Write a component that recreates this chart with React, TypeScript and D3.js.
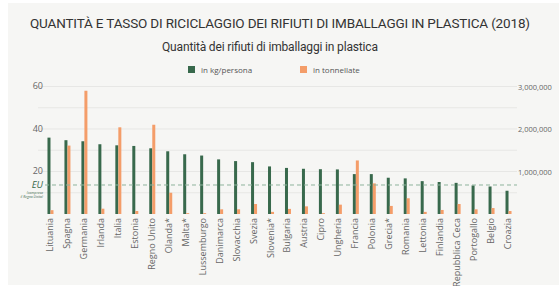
import * as React from 'react';
import {useEffect, useRef} from 'react';
import * as d3 from 'd3';

const countries = [
  'Lituania', 'Spagna', 'Germania', 'Irlanda', 'Italia', 'Estonia', 'Regno Unito',
  'Olanda*', 'Malta*', 'Lussemburgo', 'Danimarca', 'Slovacchia', 'Svezia', 'Slovenia*',
  'Bulgaria', 'Austria', 'Cipro', 'Ungheria', 'Francia', 'Polonia', 'Grecia*',
  'Romania', 'Lettonia', 'Finlandia', 'Repubblica Ceca', 'Portogallo', 'Belgio', 'Croazia',
];

// kg per person
const kgPerPerson = [
  35.8, 34.6, 34.1, 32.7, 32.2, 31.9, 30.8,
  29.4, 28.0, 27.4, 25.6, 24.8, 24.3, 22.3,
  21.6, 21.2, 21.0, 20.9, 18.7, 18.7, 17.0,
  16.7, 15.4, 15.0, 14.6, 13.4, 12.9, 10.9,
];

// tonnes
const tonnes = [
  90000, 1610000, 2900000, 125000, 2040000, 70000, 2100000,
  500000, 20000, 20000, 110000, 110000, 235000, 50000,
  120000, 180000, 20000, 220000, 1260000, 720000, 190000,
  370000, 50000, 95000, 235000, 110000, 140000, 70000,
];

const euAverage = 13.6;
const leftTicks = [20, 40, 60];
const rightTicks = [1000000, 2000000, 3000000];
const gridTicks = [500000, 1000000, 1500000, 2000000, 2500000, 3000000];

const GREEN = '#38694c';
const ORANGE = '#f49d69';
const FONT = '"Open Sans", sans-serif';

export default function App() {
  const ref = useRef<SVGSVGElement>(null);
  const width = 559;
  const height = 286;

  useEffect(() => {
    const svg = d3.select(ref.current);
    svg.selectAll('*').remove();

    const x = d3.scaleBand<string>().domain(countries).range([42, 517]);
    const yL = d3.scaleLinear().domain([0, 60]).range([214, 86]);
    const yR = d3.scaleLinear().domain([0, 3000000]).range([214, 86.5]);

    svg.append('rect')
      .attr('x', 8).attr('y', 3)
      .attr('width', width - 8).attr('height', 282)
      .attr('fill', '#f6f6f4');

    svg.append('text')
      .attr('x', 280).attr('y', 28)
      .attr('text-anchor', 'middle')
      .style('font', `400 13.5px Roboto, sans-serif`)
      .attr('fill', '#333')
      .attr('textLength', 500)
      .text('QUANTITÀ E TASSO DI RICICLAGGIO DEI RIFIUTI DI IMBALLAGGI IN PLASTICA (2018)');

    svg.append('text')
      .attr('x', 270).attr('y', 51)
      .attr('text-anchor', 'middle')
      .style('font', `400 12px Roboto, sans-serif`)
      .attr('fill', '#333')
      .attr('textLength', 216)
      .text('Quantità dei rifiuti di imballaggi in plastica');

    const legend = [
      {label: 'in kg/persona', color: GREEN, x: 188},
      {label: 'in tonnellate', color: ORANGE, x: 300},
    ];
    legend.forEach(l => {
      svg.append('rect').attr('x', l.x).attr('y', 66).attr('width', 7).attr('height', 7).attr('fill', l.color);
      svg.append('text').attr('x', l.x + 13).attr('y', 72.5)
        .style('font', `8px ${FONT}`).attr('fill', '#555').text(l.label);
    });

    // gridlines
    svg.append('g')
      .selectAll('line')
      .data(gridTicks)
      .join('line')
      .attr('x1', 38).attr('x2', 517)
      .attr('y1', d => yR(d)).attr('y2', d => yR(d))
      .attr('stroke', '#e7e7e5').attr('stroke-width', 1);

    svg.append('g')
      .selectAll('text')
      .data(leftTicks)
      .join('text')
      .attr('x', 43).attr('y', d => yL(d) + 3)
      .attr('text-anchor', 'end')
      .style('font', `9px ${FONT}`).attr('fill', '#666')
      .text(d => d);

    svg.append('g')
      .selectAll('text')
      .data(rightTicks)
      .join('text')
      .attr('x', 518).attr('y', d => yR(d) + 3)
      .style('font', `7.5px ${FONT}`).attr('fill', '#666')
      .text(d => d3.format(',')(d));

    const half = x.bandwidth() / 2;

    svg.append('g')
      .selectAll('rect')
      .data(countries)
      .join('rect')
      .attr('x', (d) => (x(d) as number) + half - 3)
      .attr('width', 3)
      .attr('y', (d, i) => yL(kgPerPerson[i]))
      .attr('height', (d, i) => yL(0) - yL(kgPerPerson[i]))
      .attr('fill', GREEN);

    svg.append('g')
      .selectAll('rect')
      .data(countries)
      .join('rect')
      .attr('x', (d) => (x(d) as number) + half)
      .attr('width', 3)
      .attr('y', (d, i) => yR(tonnes[i]))
      .attr('height', (d, i) => yR(0) - yR(tonnes[i]))
      .attr('fill', ORANGE);

    // EU average
    svg.append('line')
      .attr('x1', 45).attr('x2', 517)
      .attr('y1', yL(euAverage)).attr('y2', yL(euAverage))
      .attr('stroke', '#8fb39c').attr('stroke-width', 1)
      .attr('stroke-dasharray', '4,3');

    svg.append('text')
      .attr('x', 43).attr('y', yL(euAverage) + 3.5)
      .attr('text-anchor', 'end')
      .style('font', `italic 9.5px ${FONT}`).attr('fill', GREEN)
      .text('EU');
    svg.append('text')
      .attr('x', 43).attr('y', yL(euAverage) + 9)
      .attr('text-anchor', 'end')
      .style('font', `italic 3.5px ${FONT}`).attr('fill', GREEN)
      .text('(compreso');
    svg.append('text')
      .attr('x', 43).attr('y', yL(euAverage) + 13.5)
      .attr('text-anchor', 'end')
      .style('font', `italic 3.5px ${FONT}`).attr('fill', GREEN)
      .text('il Regno Unito)');

    // category labels
    svg.append('g')
      .selectAll('text')
      .data(countries)
      .join('text')
      .attr('transform', d => `translate(${(x(d) as number) + half + 2.5},218) rotate(-90)`)
      .attr('text-anchor', 'end')
      .style('font', `9px ${FONT}`).attr('fill', '#666')
      .text(d => d);
  }, []);

  return (
    <svg ref={ref} width={width} height={height}
      style={{position: 'absolute', left: 0, top: 0, display: 'block'}} />
  );
}
